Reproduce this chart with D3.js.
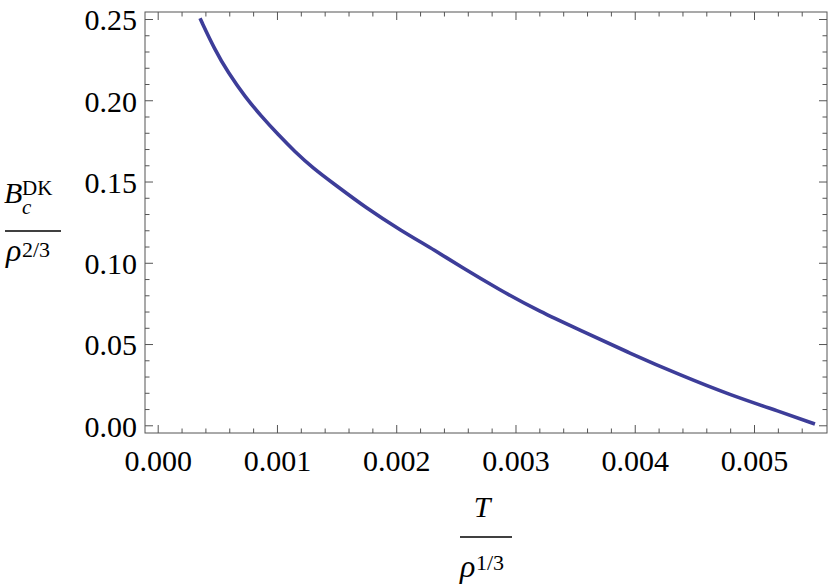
<html>
    <head>
        <style>
            body { margin: 0; background: #fff; }
            text { font-family: "Liberation Serif", "Times New Roman", serif; }
        </style>
        <script src="https://d3js.org/d3.v7.min.js"></script>
    </head>
    <body>
        <svg id="plot" width="830" height="588"></svg>
        <script>
            // values: T / rho^(1/3) and Bc / rho^(2/3)
            const tValues = [0.000355, 0.000480, 0.000592, 0.000732, 0.000872, 0.001011, 0.001151, 0.001305,
                             0.001472, 0.001752, 0.002032, 0.002339, 0.002535, 0.002870, 0.003205, 0.003541,
                             0.003960, 0.004379, 0.004798, 0.005217, 0.005511];
            const bValues = [0.2504, 0.2309, 0.2168, 0.2022, 0.1899, 0.1788, 0.1683, 0.1581,
                             0.1489, 0.1335, 0.1202, 0.1070, 0.0978, 0.0832, 0.0699, 0.0586,
                             0.0443, 0.0310, 0.0187, 0.0084, 0.0008];
            const xMajorTicks = [0, 0.001, 0.002, 0.003, 0.004, 0.005];
            const yMajorTicks = [0, 0.05, 0.10, 0.15, 0.20, 0.25];

            const plotLeft = 145, plotRight = 827, plotTop = 12, plotBottom = 433;
            const svg = d3.select('#plot');

            const xScale = d3.scaleLinear()
                .domain([-0.0001065, 0.005612])
                .range([plotLeft, plotRight]);

            const yScale = d3.scaleLinear()
                .domain([-0.00474, 0.25431])
                .range([plotBottom, plotTop]);

            const xMinor = d3.range(0, 0.00555, 0.0002).filter(v => !xMajorTicks.some(m => Math.abs(m - v) < 1e-9));
            const yMinor = d3.range(0, 0.2505, 0.01).filter(v => !yMajorTicks.some(m => Math.abs(m - v) < 1e-9));

            const frameColor = '#555';
            const serif = 'Liberation Serif';

            // frame
            svg.append('rect')
                .attr('x', plotLeft).attr('y', plotTop)
                .attr('width', plotRight - plotLeft).attr('height', plotBottom - plotTop)
                .attr('fill', 'none')
                .attr('stroke', frameColor)
                .attr('stroke-width', 1);

            function styleAxis(g) {
                g.attr('font-family', serif).attr('font-size', 30);
                g.select('.domain').remove();
                g.selectAll('line').attr('stroke', frameColor);
                g.selectAll('text').attr('fill', '#000');
            }

            // bottom axis
            svg.append('g')
                .attr('transform', `translate(0, ${plotBottom})`)
                .call(d3.axisBottom(xScale).tickValues(xMajorTicks).tickFormat(d3.format('.3f'))
                    .tickSizeInner(-8).tickSizeOuter(0).tickPadding(17))
                .call(styleAxis);
            svg.append('g')
                .attr('transform', `translate(0, ${plotBottom})`)
                .call(d3.axisBottom(xScale).tickValues(xMinor).tickFormat('').tickSizeInner(-4.5).tickSizeOuter(0))
                .call(styleAxis);

            // top axis
            svg.append('g')
                .attr('transform', `translate(0, ${plotTop})`)
                .call(d3.axisTop(xScale).tickValues(xMajorTicks).tickFormat('').tickSizeInner(-8).tickSizeOuter(0))
                .call(styleAxis);
            svg.append('g')
                .attr('transform', `translate(0, ${plotTop})`)
                .call(d3.axisTop(xScale).tickValues(xMinor).tickFormat('').tickSizeInner(-4.5).tickSizeOuter(0))
                .call(styleAxis);

            // left axis
            svg.append('g')
                .attr('transform', `translate(${plotLeft}, 0)`)
                .call(d3.axisLeft(yScale).tickValues(yMajorTicks).tickFormat(d3.format('.2f'))
                    .tickSizeInner(-8).tickSizeOuter(0).tickPadding(8))
                .call(styleAxis)
                .call(g => g.selectAll('text').attr('dy', '0.36em'));
            svg.append('g')
                .attr('transform', `translate(${plotLeft}, 0)`)
                .call(d3.axisLeft(yScale).tickValues(yMinor).tickFormat('').tickSizeInner(-4.5).tickSizeOuter(0))
                .call(styleAxis);

            // right axis
            svg.append('g')
                .attr('transform', `translate(${plotRight}, 0)`)
                .call(d3.axisRight(yScale).tickValues(yMajorTicks).tickFormat('').tickSizeInner(-8).tickSizeOuter(0))
                .call(styleAxis);
            svg.append('g')
                .attr('transform', `translate(${plotRight}, 0)`)
                .call(d3.axisRight(yScale).tickValues(yMinor).tickFormat('').tickSizeInner(-4.5).tickSizeOuter(0))
                .call(styleAxis);

            // the curve
            const points = tValues.map((t, i) => ({t: t, b: bValues[i]}));
            svg.append('path')
                .datum(points)
                .attr('fill', 'none')
                .attr('stroke', '#3d3d99')
                .attr('stroke-width', 3.6)
                .attr('d', d3.line()
                    .x(d => xScale(d.t))
                    .y(d => yScale(d.b))
                    .curve(d3.curveBasis));

            // y axis label: B_c^DK / rho^(2/3)
            const yl = svg.append('g').attr('font-family', serif);
            const num = yl.append('text').attr('x', 4).attr('y', 203);
            num.append('tspan').attr('font-size', 30).attr('font-style', 'italic').text('B');
            num.append('tspan').attr('x', 22).attr('dy', -8).attr('font-size', 21).text('DK');
            num.append('tspan').attr('x', 22).attr('dy', 19).attr('font-size', 21).attr('font-style', 'italic').text('c');
            yl.append('line').attr('x1', 5).attr('x2', 61).attr('y1', 231).attr('y2', 231)
                .attr('stroke', '#000').attr('stroke-width', 1.5);
            const den = yl.append('text').attr('x', 6).attr('y', 261);
            den.append('tspan').attr('font-size', 32).attr('font-style', 'italic').text('ρ');
            den.append('tspan').attr('x', 22).attr('dy', -4).attr('font-size', 22).text('2/3');

            // x axis label: T / rho^(1/3)
            const xl = svg.append('g').attr('font-family', serif);
            xl.append('text').attr('x', 482).attr('y', 517)
                .attr('text-anchor', 'middle')
                .attr('font-size', 30).attr('font-style', 'italic').text('T');
            xl.append('line').attr('x1', 460).attr('x2', 512).attr('y1', 537).attr('y2', 537)
                .attr('stroke', '#000').attr('stroke-width', 1.5);
            const xden = xl.append('text').attr('x', 460).attr('y', 577);
            xden.append('tspan').attr('font-size', 32).attr('font-style', 'italic').text('ρ');
            xden.append('tspan').attr('x', 476).attr('dy', -7).attr('font-size', 22).text('1/3');
        </script>
    </body>
</html>
